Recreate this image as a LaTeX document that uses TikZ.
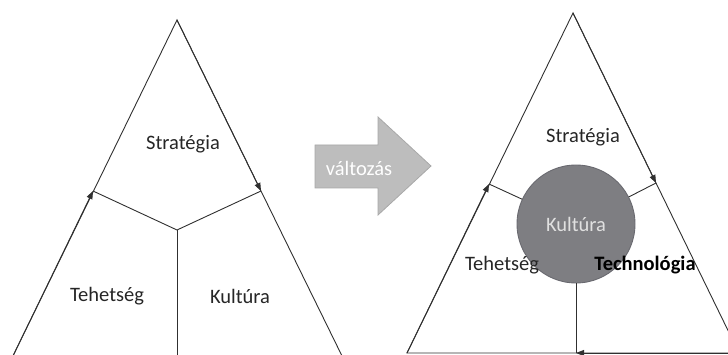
\documentclass[tikz,border=0pt]{standalone}
\usepackage{fontspec}
\setmainfont{Carlito}
\usetikzlibrary{arrows.meta}
\definecolor{edgegray}{HTML}{303030}
\definecolor{shiftfill}{HTML}{BDBDBD}
\definecolor{shiftdraw}{HTML}{A8A8A8}
\definecolor{corefill}{HTML}{7E7E82}
\definecolor{coredraw}{HTML}{6A6A70}
\tikzset{
  edge/.style={draw=edgegray, line width=0.9pt},
  flow/.style={edge, -{Triangle[length=8pt,width=6pt]}},
  lbl/.style={font=\fontsize{20.5}{24}\selectfont, text=black!85, inner sep=0pt},
  lblbold/.style={lbl, font=\fontsize{20.5}{24}\selectfont\bfseries, text=black},
}
\begin{document}
\begin{tikzpicture}[x=1pt, y=-1pt]
\useasboundingbox (0,0) rectangle (728,355);
\clip (0,0) rectangle (728,355);

% ---- before: three-part triangle ----
\coordinate (A1) at (177,20);
\coordinate (L1) at (11,360);
\coordinate (R1) at (344,360);
\coordinate (jl1) at (93,191);
\coordinate (jr1) at (261,191);
\coordinate (c1) at (177,230);
\coordinate (b1) at (177,360);

\draw[edge] (L1) -- (A1) -- (R1);
\draw[flow] (L1) -- (jl1);
\draw[flow] (A1) -- (jr1);
\draw[edge] (jl1) -- (c1) -- (jr1);
\draw[edge] (c1) -- (b1);

\node[lbl] (s1) at (183,144) {Stratégia};
\node[lbl] (t1) at (107,296) {Tehetség};
\node[lbl] (k1) at (240,296) {Kultúra};

% ---- transition arrow ----
\draw[fill=shiftfill, draw=shiftdraw, line width=0.8pt]
  (315,145) -- (378,145) -- (378,117) -- (431,166) -- (378,215)
  -- (378,188) -- (315,188) -- cycle;
\node[lbl, text=white] (chg) at (359,168) {változás};

% ---- after: culture at the core ----
\coordinate (A2) at (573,13);
\coordinate (L2) at (407,353);
\coordinate (R2) at (739,353);
\coordinate (jl2) at (489,184);
\coordinate (jr2) at (656,183);

\draw[edge] (L2) -- (A2) -- (R2) -- cycle;
\draw[flow] (L2) -- (jl2);
\draw[flow] (A2) -- (jr2);

\node[circle, minimum size=118pt, inner sep=0pt, fill=corefill, draw=coredraw,
      line width=0.9pt, lbl, text=black!12] (core) at (576,224) {Kultúra};

\coordinate (jb2) at (core.south |- L2);
\draw[flow] (R2) -- (jb2);
\draw[edge] (jl2) -- (core);
\draw[edge] (jr2) -- (core);
\draw[edge] (core.south) -- (jb2);

\node[lbl] (s2) at (583,137) {Stratégia};
\node[lbl] (t2) at (502,265) {Tehetség};
\node[lblbold] (tech) at (645,265) {Technológia};
\end{tikzpicture}
\end{document}
